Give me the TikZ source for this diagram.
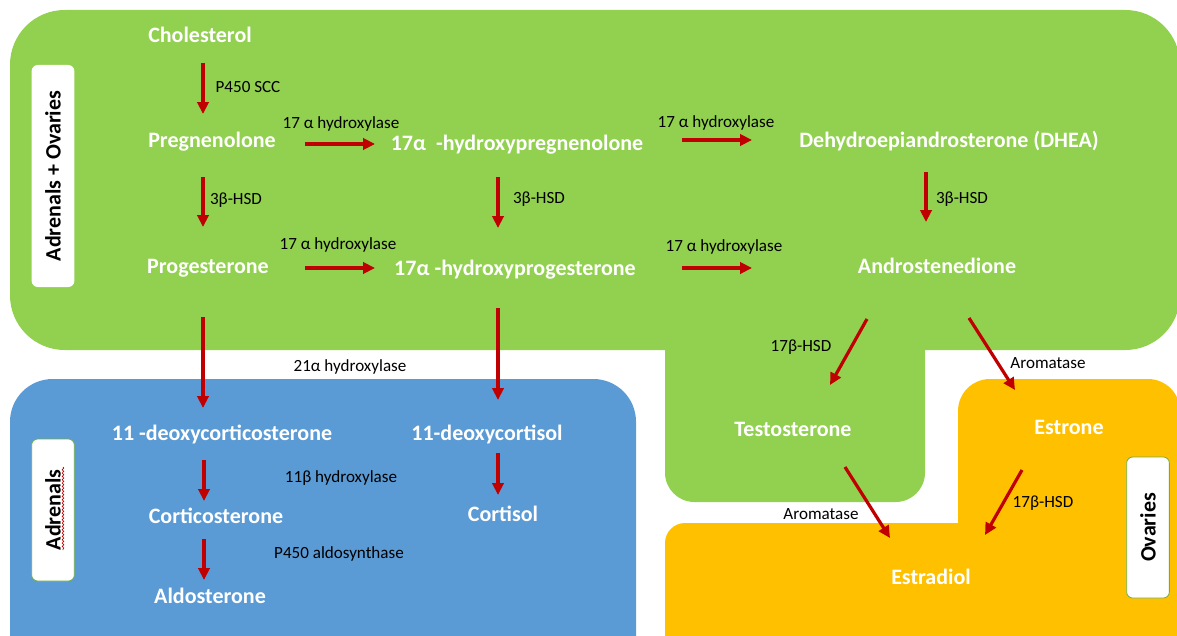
\documentclass[tikz,border=0pt]{standalone}
\usepackage{fontspec}
\setmainfont{Carlito}
\usetikzlibrary{arrows.meta,calc,decorations.pathmorphing}
\definecolor{gr}{HTML}{92D050}
\definecolor{bl}{HTML}{5B9BD5}
\definecolor{orng}{HTML}{FFC000}
\definecolor{rd}{HTML}{C00000}
\definecolor{tagline}{HTML}{70AD47}
\tikzset{
  mol/.style={font=\bfseries\fontsize{16.5}{18}\selectfont, text=white, inner sep=0pt, text height=0.9em, text depth=0pt},
  enz/.style={font=\fontsize{12.8}{14}\selectfont, text=black, inner sep=0pt, text height=0.9em, text depth=0pt},
  arr/.style={draw=rd, line width=2.4pt, -{Triangle[length=9pt,width=8.5pt]}},
  tagbox/.style={fill=white, rounded corners=4.5pt, rotate=90, inner sep=0pt, minimum height=32pt,
    font=\bfseries\fontsize{16.5}{18}\selectfont, text=black},
  tagborder/.style={draw=tagline, line width=0.6pt}
}
\begin{document}
\begin{tikzpicture}[x=0.75pt,y=-0.75pt]
\useasboundingbox (0,0) rectangle (1177,635);
\clip (0,0) rectangle (1177,635);
% background regions
\fill[gr, rounded corners=41pt] (10,10) rectangle (1180,350);
\fill[gr, rounded corners=22pt] (665,300) rectangle (925,502);
\fill[bl, rounded corners=32pt] (10,379) rectangle (636,700);
\fill[orng, rounded corners=15pt] (665,523) rectangle (1220,700);
\fill[orng, rounded corners=24pt] (958,379) rectangle (1180,600);
% region tags
\node[tagbox, minimum width=166.5pt] (tagAO) at (53,176) {Adrenals + Ovaries};
\node[tagbox, tagborder, minimum width=106.5pt] (tagA) at (53,510) {Adrenals};
\node[tagbox, tagborder, minimum width=105.75pt] (tagO) at (1148,527.5) {Ovaries};
\draw[rd, line width=0.5pt, decorate, decoration={snake, amplitude=0.6pt, segment length=2.5pt}] (63,467) -- (63,550);
% molecules
\node[mol] (chol) at (200,37) {Cholesterol};
\node[mol] (preg) at (212,141) {Pregnenolone};
\node[mol] (prog) at (208,267) {Progesterone};
\node[mol] (ohpreg) at (517,144) {17α\ \ -hydroxypregnenolone};
\node[mol] (ohprog) at (515,269) {17α -hydroxyprogesterone};
\node[mol] (dhea) at (949,141) {Dehydroepiandrosterone (DHEA)};
\node[mol] (andro) at (937,267) {Androstenedione};
\node[mol] (testo) at (793,430) {Testosterone};
\node[mol] (estrone) at (1069,428) {Estrone};
\node[mol] (estradiol) at (931,578) {Estradiol};
\node[mol] (doc) at (222,434) {11 -deoxycorticosterone};
\node[mol] (dcortisol) at (487,434) {11-deoxycortisol};
\node[mol] (cortico) at (216,517) {Corticosterone};
\node[mol] (cortisol) at (503,515) {Cortisol};
\node[mol] (aldo) at (210,597) {Aldosterone};
% enzymes
\node[enz] (e1) at (248,87) {P450 SCC};
\node[enz] (e2) at (341,122) {17 α hydroxylase};
\node[enz] (e3) at (716,121) {17 α hydroxylase};
\node[enz] (e4) at (236,198) {3β-HSD};
\node[enz] (e5) at (539,197) {3β-HSD};
\node[enz] (e6) at (962,197) {3β-HSD};
\node[enz] (e7) at (338,243) {17 α hydroxylase};
\node[enz] (e8) at (724,245) {17 α hydroxylase};
\node[enz] (e9) at (350,365) {21α hydroxylase};
\node[enz] (e10) at (801,345) {17β-HSD};
\node[enz] (e11) at (1048,362) {Aromatase};
\node[enz] (e12) at (341,476) {11β hydroxylase};
\node[enz] (e13) at (339,552) {P450 aldosynthase};
\node[enz] (e14) at (821,513) {Aromatase};
\node[enz] (e15) at (1043,501) {17β-HSD};
% arrows
\draw[arr] ($(chol)+(3,26)$) -- ($(preg)+(-9,-27)$);
\draw[arr] ($(preg)+(-9,36)$) -- ($(prog)+(-5,-40)$);
\draw[arr] ($(preg)+(93,3)$) -- ($(ohpreg)+(-142,0)$);
\draw[arr] ($(prog)+(97,1)$) -- ($(ohprog)+(-140,-1)$);
\draw[arr] ($(ohpreg)+(-19,33)$) -- ($(ohprog)+(-17,-41)$);
\draw[arr] ($(ohpreg)+(165,-4)$) -- ($(dhea)+(-197,-1)$);
\draw[arr] ($(ohprog)+(167,-1)$) -- ($(andro)+(-185,1)$);
\draw[arr] ($(dhea)+(-23,31)$) -- ($(andro)+(-11,-45)$);
\draw[arr] ($(prog)+(-5,50)$) -- ($(doc)+(-19,-26)$);
\draw[arr] ($(ohprog)+(-17,39)$) -- ($(dcortisol)+(11,-34)$);
\draw[arr] ($(andro)+(-70,52)$) -- ($(testo)+(37,-45)$);
\draw[arr] ($(andro)+(32,51)$) -- ($(estrone)+(-54,-38)$);
\draw[arr] ($(testo)+(52,37)$) -- ($(estradiol)+(-41,-40)$);
\draw[arr] ($(estrone)+(-47,42)$) -- ($(estradiol)+(54,-43)$);
\draw[arr] ($(doc)+(-18,26)$) -- ($(cortico)+(-12,-16)$);
\draw[arr] ($(cortico)+(-12,22)$) -- ($(aldo)+(-6,-17)$);
\draw[arr] ($(dcortisol)+(11,19)$) -- ($(cortisol)+(-5,-20)$);
\end{tikzpicture}
\end{document}
